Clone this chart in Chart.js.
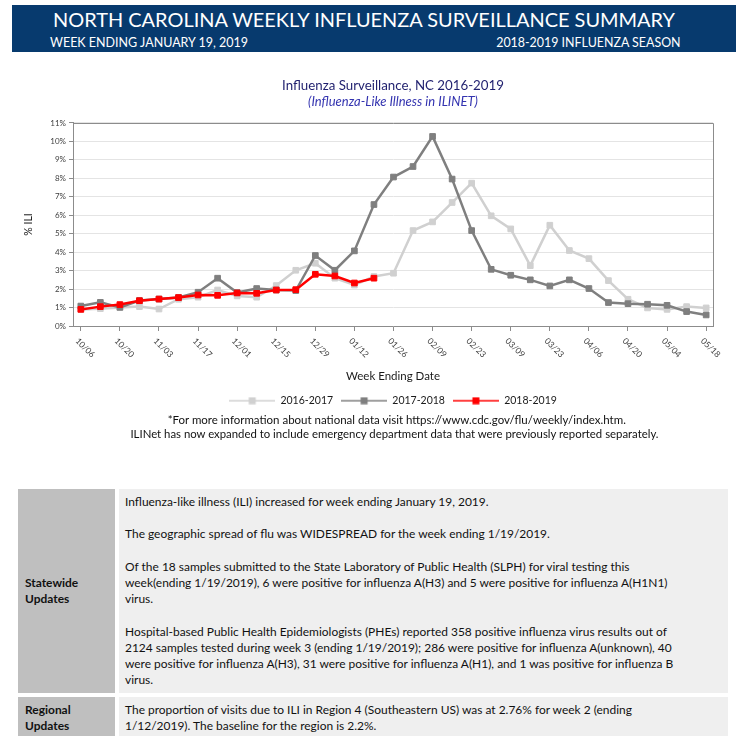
<!DOCTYPE html>
<html lang="en">
<head>
<meta charset="utf-8">
<title>NC Weekly Influenza Surveillance Summary</title>
<script src="https://cdn.jsdelivr.net/npm/chart.js@4.4.1/dist/chart.umd.min.js"></script>
<style>
  html, body { margin: 0; padding: 0; background: #fff; }
  body { position: relative; width: 736px; height: 736px; overflow: hidden; font-family: Lato, sans-serif; color: #111; }
  .txt { position: absolute; white-space: nowrap; font-size: 12px; }
  .head { color: #fff; }
  .bold { font-weight: bold; }
  #banner { position: absolute; left: 12px; top: 5px; width: 724px; height: 47px; background: #073a6e; }
  #chartBox { position: absolute; left: 0; top: 62px; width: 736px; height: 354px; }
  .cell { position: absolute; }
  .lab { background: #bfbfbf; }
  .body { background: #efefef; }
</style>
</head>
<body>
<div id="banner"></div>
<div class="txt head" data-w="625" data-x="53" data-b="26.7">NORTH CAROLINA WEEKLY INFLUENZA SURVEILLANCE SUMMARY</div>
<div class="txt head" data-w="199" data-x="50" data-b="46.7">WEEK ENDING JANUARY 19, 2019</div>
<div class="txt head" data-w="185" data-x="681" data-a="right" data-b="46.7">2018-2019 INFLUENZA SEASON</div>

<div id="chartBox"><canvas id="iliChart"></canvas></div>

<div class="txt" data-w="459" data-x="397" data-a="center" data-b="424">*For more information about national data visit https://www.cdc.gov/flu/weekly/index.htm.</div>
<div class="txt" data-w="530" data-x="395" data-a="center" data-b="438">ILINet has now expanded to include emergency department data that were previously reported separately.</div>

<div class="cell lab" style="left:18px;top:489px;width:97px;height:204px"></div>
<div class="cell body" style="left:119px;top:489px;width:609px;height:204px"></div>
<div class="cell lab" style="left:18px;top:697px;width:97px;height:40px"></div>
<div class="cell body" style="left:119px;top:697px;width:609px;height:40px"></div>

<div class="txt bold tl" data-x="25" data-b="587">Statewide</div>
<div class="txt bold tl" data-x="25" data-b="603">Updates</div>
<div class="txt bold tl" data-x="25" data-b="714">Regional</div>
<div class="txt bold tl" data-x="25" data-b="730">Updates</div>

<div class="txt tl" id="refLine" data-x="125" data-b="506">Influenza-like illness (ILI) increased for week ending January 19, 2019.</div>
<div class="txt tl" data-x="125" data-b="538">The geographic spread of flu was WIDESPREAD for the week ending 1/19/2019.</div>
<div class="txt tl" data-x="125" data-b="571">Of the 18 samples submitted to the State Laboratory of Public Health (SLPH) for viral testing this</div>
<div class="txt tl" data-x="125" data-b="587">week(ending 1/19/2019), 6 were positive for influenza A(H3) and 5 were positive for influenza A(H1N1)</div>
<div class="txt tl" data-x="125" data-b="603">virus.</div>
<div class="txt tl" data-x="125" data-b="636">Hospital-based Public Health Epidemiologists (PHEs) reported 358 positive influenza virus results out of</div>
<div class="txt tl" data-x="125" data-b="652">2124 samples tested during week 3 (ending 1/19/2019); 286 were positive for influenza A(unknown), 40</div>
<div class="txt tl" data-x="125" data-b="668">were positive for influenza A(H3), 31 were positive for influenza A(H1), and 1 was positive for influenza B</div>
<div class="txt tl" data-x="125" data-b="684">virus.</div>
<div class="txt tl" data-x="125" data-b="714">The proportion of visits due to ILI in Region 4 (Southeastern US) was at 2.76% for week 2 (ending</div>
<div class="txt tl" data-x="125" data-b="730">1/12/2019). The baseline for the region is 2.2%.</div>

<script>
// week ending dates, Oct through May
const weekLabels = ['10/06', '10/13', '10/20', '10/27', '11/03', '11/10', '11/17', '11/24',
  '12/01', '12/08', '12/15', '12/22', '12/29', '01/05', '01/12', '01/19', '01/26', '02/02',
  '02/09', '02/16', '02/23', '03/02', '03/09', '03/16', '03/23', '03/30', '04/06', '04/13',
  '04/20', '04/27', '05/04', '05/11', '05/18'];

const seasonNames = ['2016-2017', '2017-2018', '2018-2019'];

// % ILI per week
const ili1617 = [0.90, 0.94, 1.00, 1.05, 0.92, 1.45, 1.56, 1.95, 1.63, 1.56, 2.19, 3.02, 3.40,
  2.59, 2.22, 2.68, 2.86, 5.17, 5.64, 6.69, 7.74, 5.97, 5.26, 3.27, 5.46, 4.09, 3.65, 2.46,
  1.45, 0.98, 0.90, 1.05, 0.98];
const ili1718 = [1.08, 1.28, 1.01, 1.38, 1.46, 1.54, 1.83, 2.59, 1.81, 2.03, 1.95, 1.92, 3.82,
  3.02, 4.07, 6.58, 8.07, 8.64, 10.27, 7.96, 5.17, 3.07, 2.75, 2.50, 2.17, 2.50, 2.03, 1.27,
  1.21, 1.18, 1.12, 0.78, 0.60];
const ili1819 = [0.90, 1.05, 1.16, 1.37, 1.46, 1.54, 1.68, 1.66, 1.79, 1.77, 1.95, 1.97, 2.80,
  2.71, 2.33, 2.59];

const yTickValues = [0, 1, 2, 3, 4, 5, 6, 7, 8, 9, 10, 11];

const seriesColors = ['#d0d0d0', '#7f7f7f', '#ff0000'];
const axisGray = '#8c8c8c';

// ---- html text placement (fit width, put baseline where the report has it)
const meas = document.createElement('canvas').getContext('2d');
function fontStr(el, fs) {
  const cs = getComputedStyle(el);
  return cs.fontStyle + ' ' + cs.fontWeight + ' ' + fs + 'px Lato';
}
function sizeFor(el, targetW) {
  meas.font = fontStr(el, 20);
  return 20 * targetW / meas.measureText(el.textContent).width;
}
function place(el, fs) {
  meas.font = fontStr(el, fs);
  const m = meas.measureText(el.textContent);
  const asc = m.fontBoundingBoxAscent, desc = m.fontBoundingBoxDescent;
  const lh = Math.ceil(asc + desc) + 2;
  el.style.fontSize = fs + 'px';
  el.style.lineHeight = lh + 'px';
  el.style.top = (parseFloat(el.dataset.b) - asc - (lh - asc - desc) / 2) + 'px';
  const x = parseFloat(el.dataset.x);
  const a = el.dataset.a || 'left';
  el.style.left = (a === 'center' ? x - m.width / 2 : a === 'right' ? x - m.width : x) + 'px';
}
document.querySelectorAll('.txt[data-w]').forEach(el => place(el, sizeFor(el, +el.dataset.w)));
const tableFs = sizeFor(document.getElementById('refLine'), 365);
document.querySelectorAll('.tl').forEach(el => place(el, tableFs));

// ---- chart
Chart.defaults.font.family = 'Lato';
Chart.defaults.color = '#262626';

function legendIcon(color) {
  const c = document.createElement('canvas');
  c.width = 46; c.height = 8;
  const g = c.getContext('2d');
  g.strokeStyle = color; g.lineWidth = 1.5;
  g.beginPath(); g.moveTo(0, 4); g.lineTo(46, 4); g.stroke();
  g.fillStyle = color; g.fillRect(19.5, 0.5, 7, 7);
  return c;
}
const legendIcons = seriesColors.map(legendIcon);

const plotFrame = {
  id: 'plotFrame',
  beforeDatasetsDraw(chart) {
    const {ctx, chartArea: a} = chart;
    ctx.save();
    ctx.strokeStyle = axisGray;
    ctx.lineWidth = 1;
    ctx.beginPath();
    ctx.moveTo(a.left, Math.round(a.top) + 0.5);
    ctx.lineTo(Math.round(a.right) + 0.5, Math.round(a.top) + 0.5);
    ctx.lineTo(Math.round(a.right) + 0.5, a.bottom);
    ctx.stroke();
    ctx.restore();
  }
};

// week labels slant down to the right, starting at their tick
const slantedWeekLabels = {
  id: 'slantedWeekLabels',
  afterDraw(chart) {
    const xs = chart.scales.x;
    const ctx = chart.ctx;
    ctx.save();
    ctx.font = '8.5px Lato';
    ctx.fillStyle = '#404040';
    ctx.textAlign = 'left';
    ctx.textBaseline = 'middle';
    xs.ticks.forEach(t => {
      const px = xs.getPixelForValue(t.value);
      ctx.save();
      ctx.translate(px - 4, xs.top + 13.5);
      ctx.rotate(Math.PI / 4);
      ctx.fillText(weekLabels[t.value], 0, 0);
      ctx.restore();
    });
    ctx.restore();
  }
};

const seriesValues = [ili1617, ili1718, ili1819];
const datasets = seriesValues.map((vals, i) => ({
  label: seasonNames[i],
  data: vals.map((v, w) => ({x: w, y: v})),
  borderColor: seriesColors[i],
  backgroundColor: seriesColors[i],
  borderWidth: 2.5,
  pointStyle: 'rect',
  pointRadius: 4,
  pointBorderWidth: 1,
  pointHoverRadius: 4,
  tension: 0,
  order: 3 - i
}));

new Chart(document.getElementById('iliChart'), {
  type: 'line',
  data: { datasets },
  options: {
    responsive: true,
    maintainAspectRatio: false,
    animation: false,
    layout: { padding: { left: 0, right: 23, top: 0, bottom: 0 } },
    plugins: {
      title: {
        display: true,
        fullSize: false,
        text: 'Influenza Surveillance, NC 2016-2019',
        color: '#1f1f6e',
        font: { size: 13.3, weight: 'normal' },
        padding: { top: 16, bottom: 0 }
      },
      subtitle: {
        display: true,
        fullSize: false,
        text: '(Influenza-Like Illness in ILINET)',
        color: '#3434b0',
        font: { size: 13, style: 'italic' },
        padding: { top: 0.2, bottom: 13.2 }
      },
      legend: {
        position: 'bottom',
        fullSize: false,
        labels: {
          usePointStyle: true,
          pointStyleWidth: 46,
          padding: 8,
          color: '#1a1a1a',
          font: { size: 10.5 },
          sort: (a, b) => a.datasetIndex - b.datasetIndex,
          generateLabels(chart) {
            const items = Chart.defaults.plugins.legend.labels.generateLabels(chart);
            items.forEach(it => { it.pointStyle = legendIcons[it.datasetIndex]; });
            return items;
          }
        }
      },
      tooltip: { enabled: false }
    },
    scales: {
      x: {
        type: 'linear',
        min: -0.4,
        max: weekLabels.length - 1 + 0.35,
        afterBuildTicks(s) {
          s.ticks = weekLabels.map((l, i) => ({value: i})).filter(t => t.value % 2 === 0);
        },
        afterFit(s) { s.height = 61.5; },
        ticks: { display: false },
        grid: { drawOnChartArea: false, drawTicks: true, tickLength: 5, color: axisGray, tickColor: axisGray },
        border: { color: axisGray },
        title: {
          display: true,
          text: 'Week Ending Date',
          color: '#1a1a1a',
          font: { size: 11.5 },
          padding: { top: 0, bottom: 4.6 }
        }
      },
      y: {
        min: 0,
        max: 11,
        afterBuildTicks(s) { s.ticks = yTickValues.map(v => ({value: v})); },
        afterFit(s) { s.width = 73; },
        ticks: { callback: v => v + '%', font: { size: 8 }, color: '#404040', padding: 3 },
        grid: { color: '#e4e4e4', tickColor: axisGray, tickLength: 4 },
        border: { color: axisGray },
        title: {
          display: true,
          text: '% ILI',
          color: '#1a1a1a',
          font: { size: 10.5 },
          padding: { top: 22.7, bottom: 0 }
        }
      }
    }
  },
  plugins: [plotFrame, slantedWeekLabels]
});
</script>
</body>
</html>
